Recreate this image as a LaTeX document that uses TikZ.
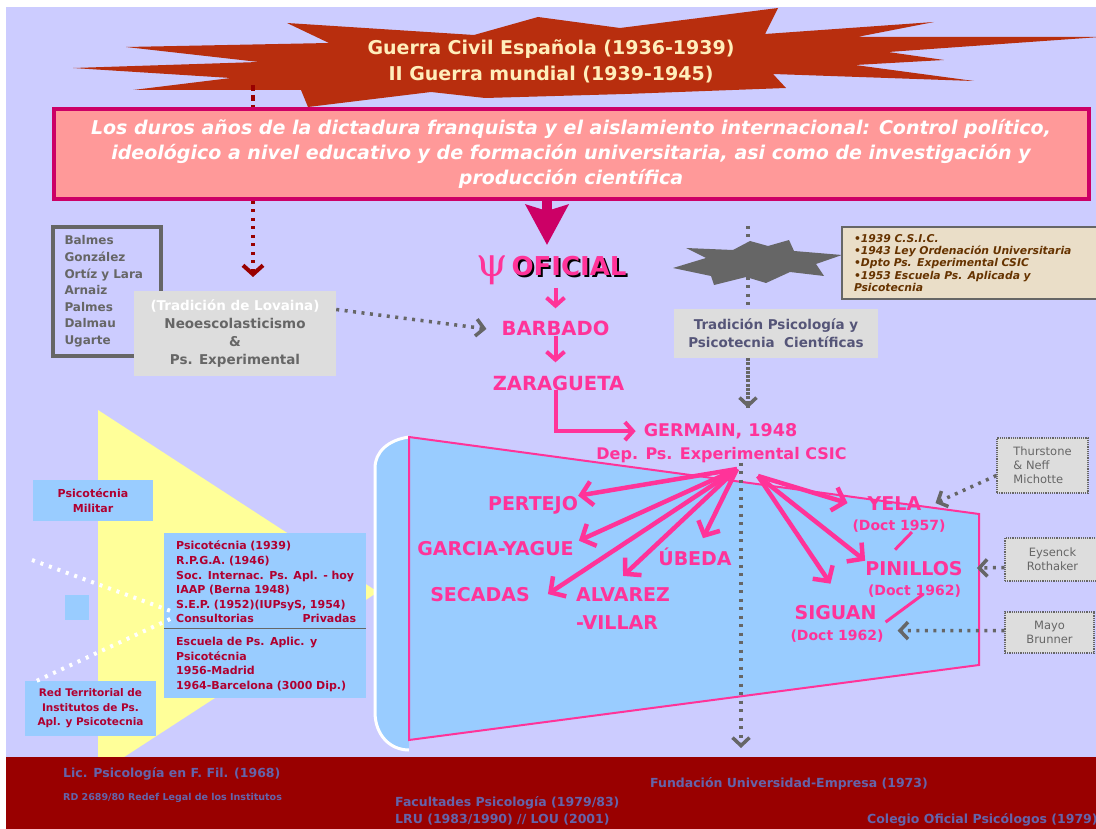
\documentclass[tikz,border=0pt]{standalone}
\usepackage{fontspec}
\setmainfont{DejaVu Sans}
\newfontfamily\psifont{DejaVu Serif}
\usepackage{tikz}
\usetikzlibrary{arrows.meta}

\definecolor{lav}{RGB}{204,204,255}
\definecolor{barred}{RGB}{153,0,0}
\definecolor{burst}{RGB}{184,46,14}
\definecolor{cream}{RGB}{255,238,187}
\definecolor{salmon}{RGB}{255,153,153}
\definecolor{magenta}{RGB}{204,0,102}
\definecolor{hotpink}{RGB}{255,51,153}
\definecolor{skyblue}{RGB}{153,204,255}
\definecolor{yel}{RGB}{255,255,153}
\definecolor{greybox}{RGB}{221,221,221}
\definecolor{darkgrey}{RGB}{102,102,102}
\definecolor{tan}{RGB}{234,222,200}
\definecolor{brown}{RGB}{102,51,0}
\definecolor{wine}{RGB}{176,0,48}
\definecolor{slate}{RGB}{85,85,120}
\definecolor{bartext}{RGB}{100,100,170}

\tikzset{
  persona/.style={text=hotpink, font=\bfseries\fontsize{19}{23}\selectfont, inner sep=0pt, anchor=base},
  doctor/.style={text=hotpink, font=\bfseries\fontsize{14}{17}\selectfont, inner sep=0pt, anchor=base},
  flecha/.style={draw=hotpink, line width=4.5pt, -{Straight Barb[length=11pt,width=24pt]}},
  punteado/.style={draw=darkgrey, line width=3.5pt, dash pattern=on 3pt off 5.5pt, -{Straight Barb[length=8pt,width=17pt]}},
  caja/.style={fill=greybox, inner sep=0pt, align=center, font=\bfseries\fontsize{13.5}{18}\selectfont},
  cajaazul/.style={fill=skyblue, inner sep=0pt, align=center, text=wine, font=\bfseries\fontsize{11}{14.6}\selectfont},
  autor/.style={draw=darkgrey, densely dotted, line width=1.2pt, fill=greybox, text=darkgrey, font=\fontsize{11.5}{14}\selectfont, inner sep=0pt},
  pie/.style={text=bartext, font=\bfseries\fontsize{12.5}{15}\selectfont, anchor=base west, inner sep=0pt}
}

\begin{document}
\begin{tikzpicture}[x=1pt,y=-1pt]
  \useasboundingbox (0,0) rectangle (1096,829);
  \fill[white] (0,0) rectangle (1096,829);
  \fill[lav] (6,7) rectangle (1096,757);

  % fondo: triangulo y trapecio
  \fill[yel] (98,410) -- (378,592) -- (98,774) -- cycle;
  \fill[skyblue] (409,437) .. controls (388,440) and (375,452) .. (375,468) -- (375,712)
    .. controls (375,735) and (390,750) .. (409,750) -- cycle;
  \draw[white, line width=3pt] (409,437) .. controls (388,440) and (375,452) .. (375,468) -- (375,712)
    .. controls (375,735) and (390,750) .. (409,750);
  \filldraw[fill=skyblue, draw=hotpink, line width=2pt] (409,437) -- (979,514) -- (979,665) -- (409,740) -- cycle;

  % guerras
  \fill[burst] (73,68) -- (259,62) -- (126,47) -- (329,43) -- (287,23) -- (474,35) -- (538,17)
    -- (620,28) -- (778,8) -- (765,34) -- (934,22) -- (857,37) -- (1100,37) -- (888,52)
    -- (944,60) -- (855,65) -- (974,81) -- (773,74) -- (786,88) -- (625,94) -- (485,98)
    -- (431,92) -- (308,107) -- (301,90) -- (133,90) -- (231,78) -- cycle;
  \node[text=cream, align=center, font=\bfseries\fontsize{19}{26}\selectfont] (guerra) at (551,61)
    {Guerra Civil Española (1936-1939)\\II Guerra mundial (1939-1945)};

  \node[draw=magenta, line width=4pt, fill=salmon, minimum width=1035pt, minimum height=90pt,
    text=white, align=center, font=\bfseries\itshape\fontsize{19}{25}\selectfont] (dictadura) at (571,154)
    {Los duros años de la dictadura franquista y el aislamiento internacional: Control político,\\
     ideológico a nivel educativo y de formación universitaria, asi como de investigación y\\
     producción científica};

  \coordinate (guerracola) at (253,85);
  \coordinate (lovainatip) at (253,277);
  \draw[barred, line width=4pt, dash pattern=on 6pt off 4pt] (guerracola) -- (guerracola |- dictadura.north);
  \draw[barred, line width=4pt, dash pattern=on 3pt off 5.5pt, -{Straight Barb[length=9pt,width=20pt]}]
    (dictadura.south -| lovainatip) -- (lovainatip);

  % psicologia oficial
  \coordinate (oficialtip) at (547,245);
  \draw[magenta, line width=10pt, -{Stealth[length=40pt,width=42pt,inset=6pt]}] (dictadura.south -| oficialtip) -- (oficialtip);
  \node[text=hotpink, font=\psifont\fontsize{40}{40}\selectfont, inner sep=0pt] (psi) at (492,270) {ψ};
  \node[anchor=base, inner sep=0pt, font=\bfseries\fontsize{26}{30}\selectfont] (oficialsombra) at (571,277.5) {OFICIAL};
  \node[anchor=base, inner sep=0pt, text=hotpink, font=\bfseries\fontsize{26}{30}\selectfont] (oficial) at (569,275.5) {OFICIAL};
  \node[persona, font=\bfseries\fontsize{19.5}{23}\selectfont] (barbado) at (555.5,336) {BARBADO};
  \node[persona, font=\bfseries\fontsize{19.5}{23}\selectfont] (zaragueta) at (558.5,390) {ZARAGUETA};
  \node[persona, font=\bfseries\fontsize{17.5}{21}\selectfont] (germain) at (720.5,436.4) {GERMAIN, 1948};
  \node[persona, font=\bfseries\fontsize{16}{19}\selectfont] (germaindep) at (721.5,459) {Dep. Ps. Experimental CSIC};

  \draw[flecha, line width=4pt, -{Straight Barb[length=8pt,width=18pt]}] ([yshift=-12pt]oficial.south -| barbado) -- ([yshift=13pt]barbado.north);
  \draw[flecha, line width=4pt, -{Straight Barb[length=8pt,width=18pt]}] (barbado.south) -- ([yshift=13pt]zaragueta.north -| barbado);
  \draw[flecha, line width=4pt, -{Straight Barb[length=8pt,width=18pt]}] ([xshift=-3pt]zaragueta.south) |- ([xshift=-8pt]germain.west);

  % tradiciones
  \node[draw=darkgrey, line width=4pt, minimum width=108pt, minimum height=129pt, text width=85pt, inner xsep=11.5pt,
    align=left, text=darkgrey, font=\bfseries\fontsize{12}{16.6}\selectfont] (balmes) at (107,291.5)
    {Balmes\\González\\Ortíz y Lara\\Arnaiz\\Palmes\\Dalmau\\Ugarte};
  \node[caja, text=darkgrey, minimum width=202pt, minimum height=85pt] (lovaina) at (235,333.5)
    {\textcolor{white}{(Tradición de Lovaina)}\\Neoescolasticismo\\\&\\Ps. Experimental};
  \draw[punteado] ([yshift=24pt]lovaina.east) -- ([xshift=-15pt]barbado.west);

  \coordinate (cientificatop) at (748,226);
  \coordinate (cientificatip) at (748,408);
  \draw[punteado, -] (cientificatop) -- (cientificatip);
  \fill[darkgrey] (673,268) -- (706,258) -- (686,248) -- (733,250) -- (750,241) -- (768,246) -- (789,240)
    -- (794,251) -- (842,255) -- (816,264) -- (824,276) -- (790,272) -- (766,283) -- (746,277)
    -- (714,285) -- (711,276) -- cycle;
  \node[draw=darkgrey, line width=2pt, fill=tan, anchor=north west, minimum width=259pt, minimum height=72pt,
    text width=240pt, inner xsep=12pt, inner ysep=4pt, align=left, text=brown,
    font=\bfseries\itshape\fontsize{10.8}{12.2}\selectfont] (csic) at (841,226)
    {•1939 C.S.I.C.\\•1943 Ley Ordenación Universitaria\\•Dpto Ps. Experimental CSIC\\•1953 Escuela Ps. Aplicada y\\Psicotecnia};
  \node[caja, text=slate, minimum width=204pt, minimum height=49pt] (cientifica) at (776,333.5)
    {Tradición Psicología y\\Psicotecnia\ \ Científicas};
  \draw[punteado] (cientifica.south -| cientificatip) -- (cientificatip);

  % psicotecnia aplicada
  \node[cajaazul, minimum width=120pt, minimum height=41pt] (militar) at (93,500.5) {Psicotécnia\\Militar};
  \fill[skyblue] (65,595) rectangle (89,620);
  \node[cajaazul, anchor=north west, minimum width=202pt, minimum height=165pt] (psicobox) at (164,533) {};
  \draw[darkgrey, line width=1pt] ([yshift=-12.5pt]psicobox.west) -- ([yshift=-12.5pt]psicobox.east);
  \node[cajaazul, fill=none, anchor=north west, text width=180pt, align=left] (psicoarriba) at (176,541)
    {Psicotécnia (1939)\\R.P.G.A. (1946)\\Soc. Internac. Ps. Apl. - hoy\\IAAP (Berna 1948)\\S.E.P. (1952)(IUPsyS, 1954)\\Consultorias\hfill Privadas};
  \node[cajaazul, fill=none, anchor=north west, text width=180pt, align=left] (psicoabajo) at (176,637)
    {Escuela de Ps. Aplic. y\\Psicotécnia\\1956-Madrid\\1964-Barcelona (3000 Dip.)};
  \node[cajaazul, minimum width=131pt, minimum height=55pt, font=\bfseries\fontsize{10.5}{14.5}\selectfont] (redterr) at (90.5,708.5)
    {Red Territorial de\\Institutos de Ps.\\Apl. y Psicotecnia};
  \coordinate (militarcola) at (32,560);
  \draw[white, line width=4pt, dash pattern=on 3pt off 6pt] (militarcola) -- ([xshift=6pt,yshift=5pt]psicobox.west);
  \draw[white, line width=4pt, dash pattern=on 3pt off 6pt] ([xshift=12pt]redterr.north west) -- ([xshift=9pt,yshift=-2pt]psicobox.west);

  % discipulos de Germain
  \node[persona] (pertejo) at (533,510) {PERTEJO};
  \node[persona] (garcia) at (495.5,555) {GARCIA-YAGUE};
  \node[persona] (secadas) at (480,601) {SECADAS};
  \node[persona, anchor=base west] (alvarez) at (576,601) {ALVAREZ};
  \node[persona, anchor=base west] (villar) at (576,629) {-VILLAR};
  \node[persona] (ubeda) at (695,565) {ÚBEDA};
  \node[persona] (yela) at (894.5,510) {YELA};
  \node[doctor] (yeladoct) at (899,530) {(Doct 1957)};
  \node[persona] (pinillos) at (914,575) {PINILLOS};
  \node[doctor] (pinidoct) at (914.5,595) {(Doct 1962)};
  \node[persona] (siguan) at (835.5,619) {SIGUAN};
  \node[doctor] (siguandoct) at (837,640) {(Doct 1962)};

  \coordinate (germainizq) at (737,469);
  \coordinate (germainder) at (758,476);
  \draw[flecha] (germainizq) -- (pertejo.north east);
  \draw[flecha] (germainizq) -- ([xshift=5pt]garcia.north east);
  \draw[flecha] (germainizq) -- ([xshift=18pt]secadas.east);
  \draw[flecha] (germainizq) -- ([yshift=11pt]alvarez.north);
  \draw[flecha] (germainizq) -- ([xshift=8pt,yshift=9pt]ubeda.north);
  \draw[flecha] (germainder) -- ([xshift=-20pt]yela.west);
  \draw[flecha] (germainder) -- (pinillos.north west);
  \draw[flecha] (germainder) -- ([xshift=-5pt,yshift=21pt]siguan.north);
  \draw[hotpink, line width=3pt] ([xshift=13pt]yeladoct.south) -- ([xshift=-19pt,yshift=11pt]pinillos.north);
  \draw[hotpink, line width=3pt] ([xshift=9pt,yshift=3pt]pinidoct.south) -- ([xshift=9pt,yshift=-10pt]siguan.east);

  \coordinate (csicfin) at (741,748);
  \draw[punteado] (germaindep.south -| csicfin) -- (csicfin);

  % influencias externas
  \node[autor, minimum width=91pt, minimum height=55pt, align=left] (thurstone) at (1042.5,465.5) {Thurstone\\\& Neff\\Michotte};
  \node[autor, minimum width=95pt, minimum height=43pt, align=center] (eysenck) at (1052.5,559.5) {Eysenck\\Rothaker};
  \node[autor, minimum width=89pt, minimum height=41pt, align=center] (mayo) at (1049.5,632.5) {Mayo\\Brunner};
  \draw[punteado] ([yshift=-10pt]thurstone.west) -- ([xshift=14pt]yela.east);
  \draw[punteado] ([yshift=-8pt]eysenck.west) -- ([xshift=14pt]pinillos.east);
  \draw[punteado] ([yshift=2pt]mayo.west) -- ([xshift=14pt,yshift=5pt]siguandoct.east);

  % barra inferior
  \fill[barred] (6,757) rectangle (1096,829);
  \node[pie] (lic) at (63,777.5) {Lic. Psicología en F. Fil. (1968)};
  \node[pie, font=\bfseries\fontsize{9.5}{11}\selectfont] (rd) at (63,800) {RD 2689/80 Redef Legal de los Institutos};
  \node[pie] (facultades) at (395,806) {Facultades Psicología (1979/83)};
  \node[pie] (lru) at (395,823) {LRU (1983/1990) // LOU (2001)};
  \node[pie] (fundacion) at (650,787) {Fundación Universidad-Empresa (1973)};
  \node[pie] (colegio) at (867,823) {Colegio Oficial Psicólogos (1979)};
\end{tikzpicture}
\end{document}
